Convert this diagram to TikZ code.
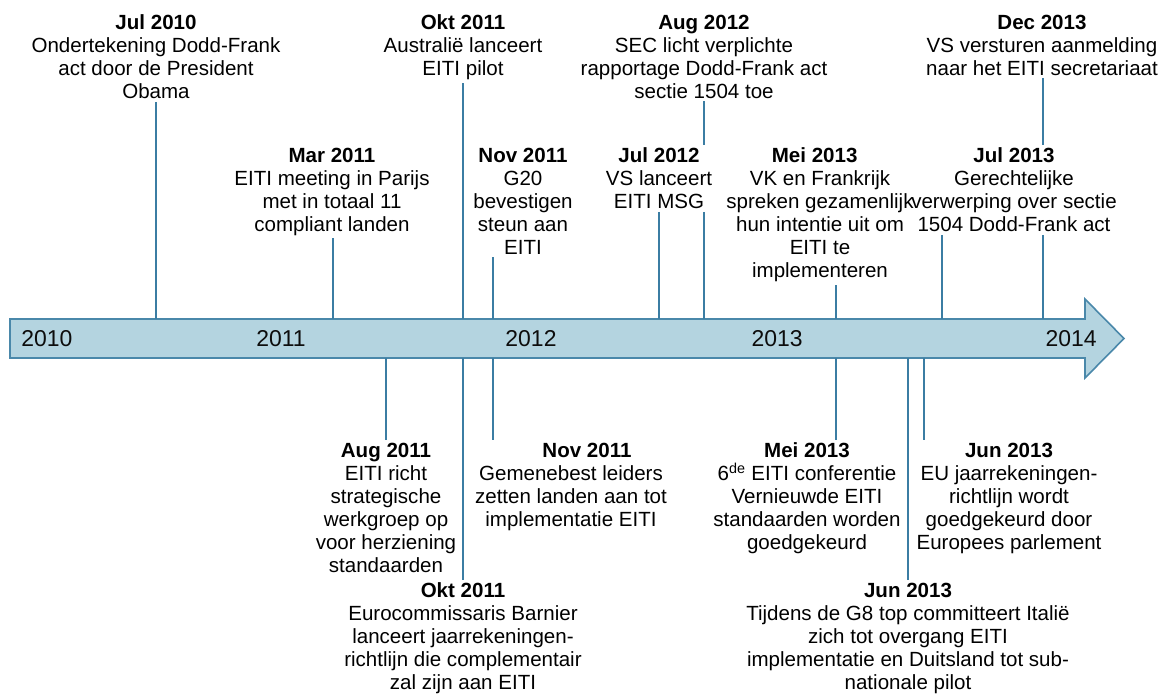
\documentclass[tikz,border=0pt]{standalone}
\usepackage{fontspec}
\setmainfont{Liberation Sans}
\usepackage{tikz}
\usetikzlibrary{positioning}
\definecolor{barfill}{RGB}{180,212,224}
\definecolor{barline}{RGB}{74,136,170}
\definecolor{tickline}{RGB}{59,125,163}
\tikzset{
  event/.style={
    align=center, anchor=north, inner sep=2pt,
    font=\fontsize{15.4}{17.25}\selectfont
  },
  year/.style={
    inner sep=0pt, font=\fontsize{17.2}{20}\selectfont, text=black!95
  },
  tick/.style={draw=tickline, line width=1.5pt},
  bar/.style={fill=barfill, draw=barline, line width=1.2pt},
}

\begin{document}
\begin{tikzpicture}[x=0.75pt,y=-0.75pt]
  \useasboundingbox (0,0) rectangle (1167,693);

  % time bar
  \path[bar] (10,319) -- (1085,319) -- (1085,299) -- (1124,338.5)
    -- (1085,378) -- (1085,358) -- (10,358) -- cycle;
  \node[year] (y2010) at (47,339)   {2010};
  \node[year] (y2011) at (281,339)  {2011};
  \node[year] (y2012) at (531,339)  {2012};
  \node[year] (y2013) at (777,339)  {2013};
  \node[year] (y2014) at (1071,339) {2014};

  % points on the bar
  \coordinate (jul10-t)  at (156,319);
  \coordinate (mar11-t)  at (333,319);
  \coordinate (okt11a-t) at (463,319);
  \coordinate (nov11a-t) at (493,319);
  \coordinate (jul12-t)  at (659,319);
  \coordinate (aug12-t)  at (704,319);
  \coordinate (mei13a-t) at (836,319);
  \coordinate (jul13-t)  at (942,319);
  \coordinate (dec13-t)  at (1043,319);
  \coordinate (aug11-t)  at (386,358);
  \coordinate (okt11b-t) at (463,358);
  \coordinate (nov11b-t) at (493,358);
  \coordinate (mei13b-t) at (836,358);
  \coordinate (jun13b-t) at (908,358);
  \coordinate (jun13a-t) at (924,358);

  % above the bar
  \node[event] (jul10) at (156,12) {\textbf{Jul 2010}\\
    Ondertekening Dodd-Frank\\act door de President\\Obama};
  \node[event] (okt11a) at (463,12) {\textbf{Okt 2011}\\
    Australië lanceert\\EITI pilot};
  \node[event] (aug12) at (704,12) {\textbf{Aug 2012}\\
    SEC licht verplichte\\rapportage Dodd-Frank act\\sectie 1504 toe};
  \node[event] (dec13) at (1042,12) {\textbf{Dec 2013}\\
    VS versturen aanmelding\\naar het EITI secretariaat};
  \node[event] (mar11) at (332,145) {\textbf{Mar 2011}\\
    EITI meeting in Parijs\\met in totaal 11\\compliant landen};
  \node[event] (nov11a) at (523,145) {\textbf{Nov 2011}\\
    G20\\bevestigen\\steun aan\\EITI};
  \node[event] (jul12) at (659,145) {\textbf{Jul 2012}\\
    VS lanceert\\EITI MSG};
  \node[event] (mei13a) at (820,145) {\textbf{Mei 2013}\hspace*{8pt}\\
    VK en Frankrijk\\spreken gezamenlijk\\hun intentie uit om\\EITI te\\implementeren};
  \node[event] (jul13) at (1014,145) {\textbf{Jul 2013}\\
    Gerechtelijke\\verwerping over sectie\\1504 Dodd-Frank act};

  % below the bar
  \node[event] (aug11) at (386,440) {\textbf{Aug 2011}\\
    EITI richt\\strategische\\werkgroep op\\voor herziening\\standaarden};
  \node[event] (nov11b) at (571,440) {\hspace*{24pt}\textbf{Nov 2011}\\
    Gemenebest leiders\\zetten landen aan tot\\implementatie EITI};
  \node[event] (mei13b) at (807,440) {\textbf{Mei 2013}\\
    6\textsuperscript{de} EITI conferentie\\Vernieuwde EITI\\standaarden worden\\goedgekeurd};
  \node[event] (jun13a) at (1009,440) {\textbf{Jun 2013}\\
    EU jaarrekeningen-\\richtlijn wordt\\goedgekeurd door\\Europees parlement};
  \node[event] (okt11b) at (463,580) {\textbf{Okt 2011}\\
    Eurocommissaris Barnier\\lanceert jaarrekeningen-\\richtlijn die complementair\\zal zijn aan EITI};
  \node[event] (jun13b) at (908,580) {\textbf{Jun 2013}\\
    Tijdens de G8 top committeert Italië\\zich tot overgang EITI\\implementatie en Duitsland tot sub-\\nationale pilot};

  % connectors
  \draw[tick] (jul10.south -| jul10-t) -- (jul10-t);
  \draw[tick] (mar11.south -| mar11-t) -- (mar11-t);
  \draw[tick] (okt11a.south -| okt11a-t) -- (okt11a-t);
  \draw[tick] (nov11a.south -| nov11a-t) -- (nov11a-t);
  \draw[tick] (jul12.south -| jul12-t) -- (jul12-t);
  \draw[tick] (aug12.south -| aug12-t) -- (jul12.north -| aug12-t);
  \draw[tick] (jul12.south -| aug12-t) -- (aug12-t);
  \draw[tick] (mei13a.south -| mei13a-t) -- (mei13a-t);
  \draw[tick] (jul13.south -| jul13-t) -- (jul13-t);
  \draw[tick] (dec13.south -| dec13-t) -- (jul13.north -| dec13-t);
  \draw[tick] (jul13.south -| dec13-t) -- (dec13-t);
  \draw[tick] (aug11-t) -- (aug11.north -| aug11-t);
  \draw[tick] (okt11b-t) -- (okt11b.north -| okt11b-t);
  \draw[tick] (nov11b-t) -- (nov11b.north -| nov11b-t);
  \draw[tick] (mei13b-t) -- (mei13b.north -| mei13b-t);
  \draw[tick] (jun13b-t) -- (jun13b.north -| jun13b-t);
  \draw[tick] (jun13a-t) -- (jun13a.north -| jun13a-t);
\end{tikzpicture}
\end{document}
